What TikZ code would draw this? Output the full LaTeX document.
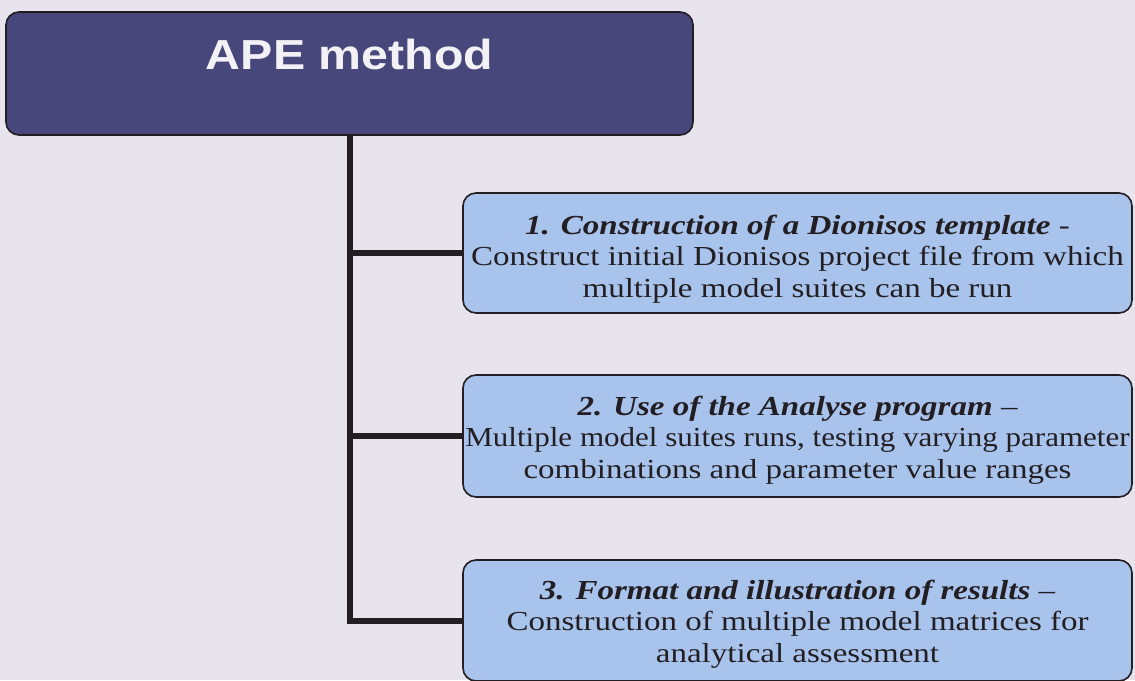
\documentclass[tikz,border=0pt]{standalone}
\usepackage{graphicx}
\usepackage{fontspec}
\setmainfont[FakeStretch=1.2]{Liberation Serif}
\newfontfamily\titlefont[FakeStretch=1.15]{Liberation Sans}
\definecolor{pagebg}{HTML}{E7E4EE}
\definecolor{navy}{HTML}{47477B}
\definecolor{boxblue}{HTML}{A8C3EC}
\definecolor{inkdark}{HTML}{231E22}
\definecolor{titlewhite}{HTML}{F2F1F6}
\newcommand{\stephead}[1]{\textbf{\textit{#1}}}
\tikzset{
  titlebox/.style={draw=inkdark, line width=1.6pt, fill=navy, rounded corners=13pt,
    minimum width=687pt, minimum height=123pt, inner sep=0pt},
  titletext/.style={text=titlewhite, font=\titlefont\bfseries\fontsize{42}{46}\selectfont, inner sep=0pt, anchor=base},
  stepbox/.style={draw=inkdark, line width=1.6pt, fill=boxblue, rounded corners=13pt,
    minimum width=669pt, inner sep=0pt},
  steptext/.style={inner sep=0pt, align=center, text=inkdark,
    font=\fontsize{27.5}{31.5}\selectfont},
  conn/.style={draw=inkdark, line width=6pt}
}
\begin{document}
\begin{tikzpicture}[x=1pt,y=-1pt]
\useasboundingbox (0,0) rectangle (1135,680);
\fill[pagebg] (0,0) rectangle (1135,680);
\node[titlebox] (title) at (349.5,73.5) {};
\node[titletext] (titletxt) at (349.5,69) {APE method};
\node[stepbox, minimum height=120pt] (b1) at (797.5,253) {};
\node[stepbox, minimum height=122pt] (b2) at (797.5,436) {};
\node[stepbox, minimum height=121pt] (b3) at (797.5,620.5) {};
\node[steptext] (t1) at (797.5,259)
  {\stephead{1. Construction of a Dionisos template} -\\
   Construct initial Dionisos project file from which\\
   multiple model suites can be run};
\node[steptext] (t2) at (797.5,440)
  {\stephead{2. Use of the Analyse program} --\\
   \scalebox{0.94}[1]{Multiple model suites runs, testing varying parameter}\\
   combinations and parameter value ranges};
\node[steptext] (t3) at (797.5,624)
  {\stephead{3. Format and illustration of results} --\\
   Construction of multiple model matrices for\\
   analytical assessment};
\draw[conn] (title.south) -- (title.south |- b3.west) -- (b3.west);
\draw[conn] (title.south |- b1.west) -- (b1.west);
\draw[conn] (title.south |- b2.west) -- (b2.west);
\end{tikzpicture}
\end{document}
